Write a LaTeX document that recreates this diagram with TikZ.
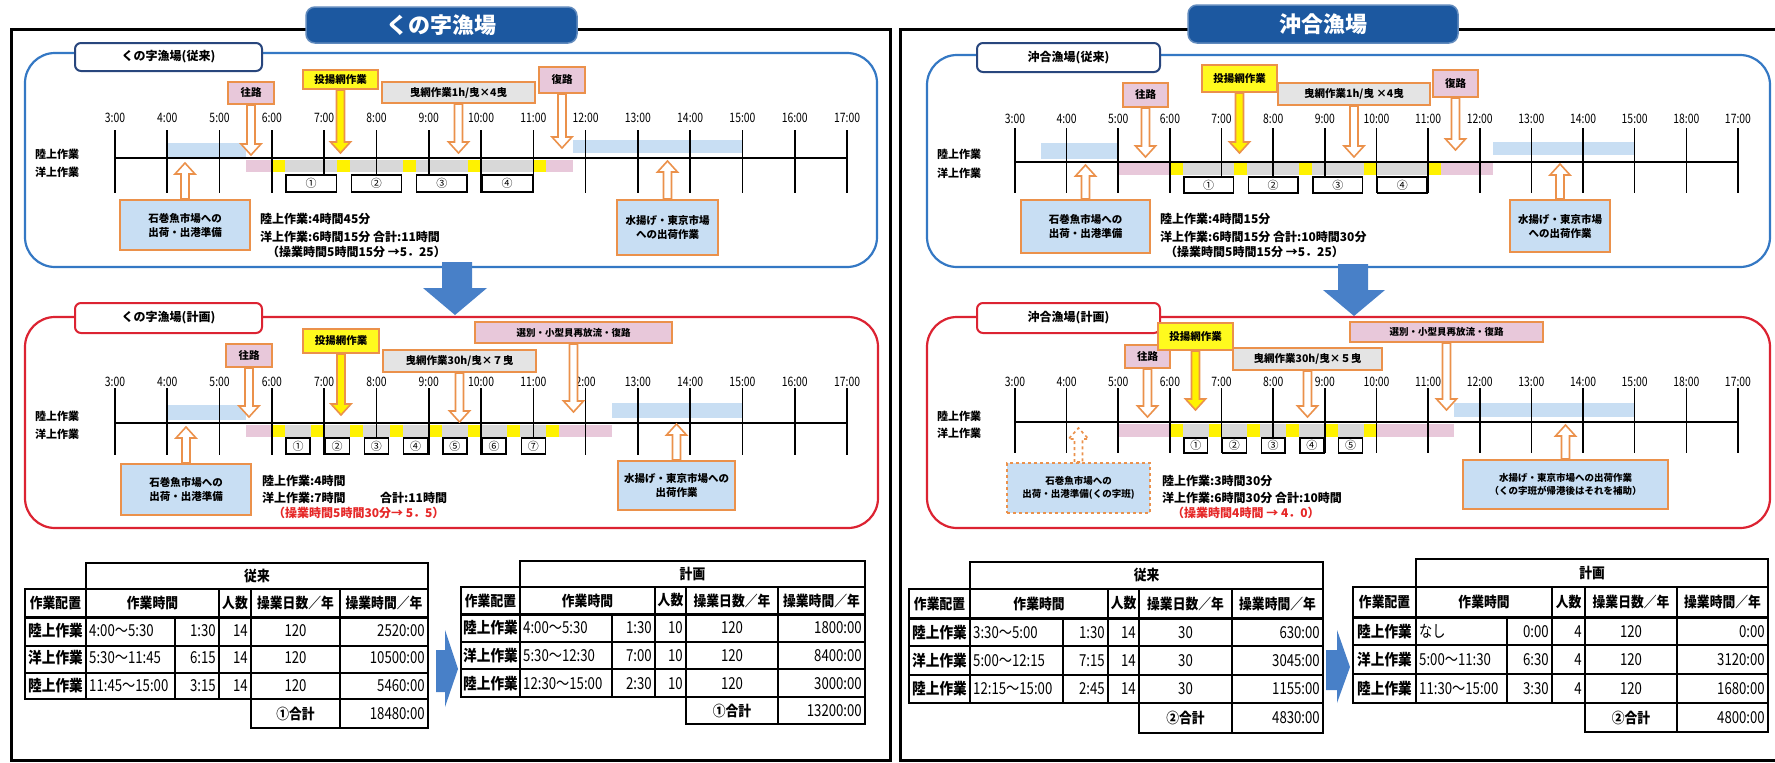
\documentclass[tikz,border=0pt]{standalone}
\usepackage{fontspec}
\setmainfont{Noto Sans CJK JP}
\newfontfamily\jpn{Noto Sans CJK JP}[FakeStretch=0.8]
\newfontfamily\jpt{Noto Sans CJK JP}[FakeStretch=0.88]
\usetikzlibrary{calc}
\definecolor{pblue}{RGB}{52,120,196}
\definecolor{tagblue}{RGB}{40,70,125}
\definecolor{pred}{RGB}{220,35,50}
\definecolor{ored}{RGB}{235,145,75}
\definecolor{lblue}{RGB}{200,222,243}
\definecolor{lpink}{RGB}{232,200,218}
\definecolor{ybox}{RGB}{255,250,30}
\definecolor{gbar}{RGB}{216,216,216}
\definecolor{tabblue}{RGB}{28,88,160}
\definecolor{bigblue}{RGB}{72,128,200}
\definecolor{rtext}{RGB}{230,40,40}
\tikzset{
 frm/.style={draw=black, line width=3pt},
 panelB/.style={draw=pblue, line width=2.2pt, rounded corners=30pt},
 panelR/.style={draw=pred, line width=2.2pt, rounded corners=30pt},
 tagB/.style={draw=tagblue, line width=2pt, fill=white, rounded corners=6pt, font=\bfseries\fontsize{12}{14}\selectfont},
 tagR/.style={tagB, draw=pred},
 tabT/.style={fill=tabblue, draw=tabblue!70!white, line width=1.5pt, rounded corners=9pt, text=white, font=\bfseries\fontsize{22}{24}\selectfont},
 tickln/.style={line width=1.6pt},
 axln/.style={line width=1.8pt},
 ticklab/.style={font=\jpn\fontsize{13}{14}\selectfont, inner sep=0pt},
 rowlab/.style={anchor=west, inner sep=0pt, font=\bfseries\fontsize{11}{12}\selectfont},
 callout/.style={draw=ored, line width=2pt, font=\bfseries\fontsize{10.5}{14}\selectfont, align=center},
 cpink/.style={callout, fill=lpink},
 cyel/.style={callout, fill=ybox},
 cgray/.style={callout, fill=gbar!70},
 cblue/.style={callout, fill=lblue},
 smallf/.style={font=\bfseries\fontsize{9.5}{13}\selectfont},
 barrow/.style={draw=ored, line width=1.6pt, fill=white, line join=miter},
 numbox/.style={draw=black, line width=1.4pt, fill=white, inner sep=0pt, font=\fontsize{11}{12}\selectfont},
 summ/.style={anchor=west, inner sep=0pt, font=\bfseries\fontsize{12}{14}\selectfont},
 tline/.style={line width=1.5pt},
 thd/.style={inner sep=0pt, font=\jpt\bfseries\fontsize{14.5}{16}\selectfont},
 tnum/.style={inner sep=0pt, font=\jpn\fontsize{16.5}{17}\selectfont},
}
% box from corners
\newcommand\boxat[7]{\node[#2, minimum width={(#5)-(#3)}, minimum height={(#6)-(#4)}, inner sep=0pt] (#1) at ({((#3)+(#5))/2},{((#4)+(#6))/2}) {#7};}
% block arrow from a node anchor to a tip coordinate
\newcommand\blockarrow[3][]{%
 \draw[barrow,#1] let \p1=(#2), \p2=(#3), \p3=($(#3)!11pt!(#2)$) in
 (\x1-4pt,\y1) -- (\x1-4pt,\y3) -- (\x1-10pt,\y3) -- (\x1,\y2) -- (\x1+10pt,\y3) -- (\x1+4pt,\y3) -- (\x1+4pt,\y1) -- cycle;}
% bar between two times
\newcommand\tbar[5]{\fill[#5] ({\XO+\SC*((#1)-3)},#3) rectangle ({\XO+\SC*((#2)-3)},#4);}
% timeline: prefix, line y, tick top, tick bottom, label y, labels
\newcommand\mktimeline[6]{%
 \foreach \lab [count=\i from 0] in {#6} {
  \draw[tickln] ({\XO+\SC*\i},#3) -- ({\XO+\SC*\i},#4);
  \node[ticklab] (#1-t\i) at ({\XO+\SC*\i},#5) {\lab};
 }
 \draw[axln] (\XO,#2) -- ({\XO+14*\SC},#2);
}
% haul cycles: n, gray length, y1, y2
\newcommand\mkcycles[4]{%
 \foreach \k in {1,...,#1} {
  \pgfmathsetmacro\tA{6+(0.25+#2)*(\k-1)}
  \pgfmathsetmacro\tB{\tA+0.25}
  \pgfmathsetmacro\tC{\tB+#2}
  \tbar{\tA}{\tB}{#3}{#4}{yellow}
  \tbar{\tB}{\tC}{#3}{#4}{gbar}
 }
 \pgfmathsetmacro\tZ{6+(0.25+#2)*#1}
 \tbar{\tZ}{\tZ+0.25}{#3}{#4}{yellow}
}
% numbered boxes
\newcommand\mknum[5]{%
 \foreach \cn [count=\n] in {#2} {
  \pgfmathsetmacro\tB{6.25+(0.25+#3)*(\n-1)}
  \node[numbox, minimum width={\SC*#3-2}, minimum height={#5-#4}] (#1-n\n) at ({\XO+\SC*(\tB+#3/2-3)},{(#4+#5)/2}) {\cn};
 }
}
% table
\newcommand\mktable[5]{%
 \draw[tline] (\Xb,\Ya) rectangle (\Xg,\Yb);
 \node[thd] (#1-ttl) at ({(\Xb+\Xg)/2},{(\Ya+\Yb)/2}) {#2};
 \draw[tline] (\Xa,\Yb) rectangle (\Xg,\Yc);
 \foreach \xx in {\Xb,\Xd,\Xe,\Xf} {\draw[tline] (\xx,\Yb) -- (\xx,\Yc);}
 \node[thd] (#1-h1) at ({(\Xa+\Xb)/2},{(\Yb+\Yc)/2}) {作業配置};
 \node[thd] (#1-h2) at ({(\Xb+\Xd)/2},{(\Yb+\Yc)/2}) {作業時間};
 \node[thd] (#1-h3) at ({(\Xd+\Xe)/2},{(\Yb+\Yc)/2}) {人数};
 \node[thd] (#1-h4) at ({(\Xe+\Xf)/2},{(\Yb+\Yc)/2}) {操業日数／年};
 \node[thd] (#1-h5) at ({(\Xf+\Xg)/2},{(\Yb+\Yc)/2}) {操業時間／年};
 \draw[tline] (\Xa,\Yc) rectangle (\Xg,\Yf);
 \draw[tline] (\Xa,\Yd) -- (\Xg,\Yd) (\Xa,\Ye) -- (\Xg,\Ye);
 \foreach \xx in {\Xb,\Xc,\Xd,\Xe,\Xf} {\draw[tline] (\xx,\Yc) -- (\xx,\Yf);}
 \draw[line width=3pt] (\Xa,\Yc) -- (\Xg,\Yc);
 \draw[tline] (\Xe,\Yf) rectangle (\Xg,\Yg);
 \draw[tline] (\Xf,\Yf) -- (\Xf,\Yg);
 \foreach \va/\vb/\vc/\vd/\ve/\vf [count=\i] in {#3} {
  \pgfmathsetmacro\yy{\Yc+(\i-0.5)*(\Yf-\Yc)/3}
  \node[thd,font=\jpt\bfseries\fontsize{15.5}{16}\selectfont] (#1-r\i-a) at ({(\Xa+\Xb)/2},\yy) {\va};
  \node[tnum,anchor=west] (#1-r\i-b) at (\Xb+3,\yy) {\vb};
  \node[tnum,anchor=east] (#1-r\i-c) at (\Xd-3,\yy) {\vc};
  \node[tnum,anchor=east] (#1-r\i-d) at (\Xe-3,\yy) {\vd};
  \node[tnum] (#1-r\i-e) at ({(\Xe+\Xf)/2},\yy) {\ve};
  \node[tnum,anchor=east] (#1-r\i-f) at (\Xg-3,\yy) {\vf};
 }
 \node[thd] (#1-tl) at ({(\Xe+\Xf)/2},{(\Yf+\Yg)/2}) {#4};
 \node[tnum,anchor=east] (#1-tv) at (\Xg-3,{(\Yf+\Yg)/2}) {#5};
}
\begin{document}
\begin{tikzpicture}[x=1pt,y=-1pt]
\clip (0,0) rectangle (1775,763);
\fill[white] (0,0) rectangle (1775,763);
% outer frames
\draw[frm] (11,29) rectangle (890,760);
\draw[frm] (900,29) rectangle (1790,760);
\boxat{tabL}{tabT}{306}{7}{577}{43}{くの字漁場}
\boxat{tabR}{tabT}{1188}{5}{1458}{43}{沖合漁場}

% ================= TOP LEFT =================
\def\XO{115}\def\SC{52.29}
\draw[panelB] (25,53) rectangle (877,267);
\boxat{TLtag}{tagB}{75}{43}{262}{71}{くの字漁場(従来)}
\tbar{4}{5.5}{143}{157}{lblue}
\tbar{11.75}{15}{140}{153}{lblue}
\tbar{5.5}{6}{160}{172}{lpink}
\tbar{11.25}{11.75}{160}{172}{lpink}
\mkcycles{4}{1}{160}{172}
\mktimeline{TL}{158}{130}{193}{118}{3:00,4:00,5:00,6:00,7:00,8:00,9:00,10:00,11:00,12:00,13:00,14:00,15:00,16:00,17:00}
\node[rowlab] (TLr1) at (35,154) {陸上作業};
\node[rowlab] (TLr2) at (35,172) {洋上作業};
\mknum{TL}{①,②,③,④}{1}{175}{192}
\boxat{TLc1}{cpink}{228}{82}{274}{104}{往路}
\boxat{TLc2}{cyel}{303}{70}{378}{89}{投揚網作業}
\boxat{TLc3}{cgray}{382}{82}{535}{103}{曳網作業1h/曳×4曳}
\boxat{TLc4}{cpink}{539}{67}{585}{93}{復路}
\boxat{TLc5}{cblue}{120}{200}{250}{250}{石巻魚市場への\\出荷・出港準備}
\boxat{TLc6}{cblue}{617}{200}{718}{255}{水揚げ・東京市場\\への出荷作業}
\coordinate (TLp1) at (251,155);
\coordinate (TLp2) at (341,153);
\coordinate (TLp3) at (458,153);
\coordinate (TLp4) at (562,148);
\coordinate (TLp5) at (185,163);
\coordinate (TLp6) at (667,161);
\blockarrow{TLc1.south}{TLp1}
\blockarrow[fill=yellow]{TLc2.south}{TLp2}
\blockarrow{TLc3.south}{TLp3}
\blockarrow{TLc4.south}{TLp4}
\blockarrow{TLc5.north}{TLp5}
\blockarrow{TLc6.north}{TLp6}
\node[summ] (TLs1) at (260,219) {陸上作業:4時間45分};
\node[summ] (TLs2) at (260,237) {洋上作業:6時間15分 合計:11時間};
\node[summ] (TLs3) at (267,252) {（操業時間5時間15分 →5．25）};

% ================= MIDDLE LEFT =================
\draw[panelR] (25,317) rectangle (878,528);
\boxat{MLtag}{tagR}{75}{303}{262}{333}{くの字漁場(計画)}
\tbar{4}{5.5}{405}{420}{lblue}
\tbar{12.5}{15}{403}{418}{lblue}
\tbar{5.5}{6}{425}{437}{lpink}
\tbar{11.5}{12.5}{425}{437}{lpink}
\mkcycles{7}{0.5}{425}{437}
\mktimeline{ML}{423}{388}{455}{382}{3:00,4:00,5:00,6:00,7:00,8:00,9:00,10:00,11:00,2:00,13:00,14:00,15:00,16:00,17:00}
\node[rowlab] (MLr1) at (35,416) {陸上作業};
\node[rowlab] (MLr2) at (35,434) {洋上作業};
\mknum{ML}{①,②,③,④,⑤,⑥,⑦}{0.5}{438}{454}
\boxat{MLc1}{cpink}{226}{344}{272}{367}{往路}
\boxat{MLc2}{cyel}{303}{329}{379}{353}{投揚網作業}
\boxat{MLc3}{cgray}{383}{350}{536}{372}{曳網作業30h/曳×７曳}
\boxat{MLc4}{cpink,smallf}{475}{322}{672}{343}{選別・小型貝再放流・復路}
\boxat{MLc5}{cblue}{121}{464}{251}{515}{石巻魚市場への\\出荷・出港準備}
\boxat{MLc6}{cblue}{618}{461}{735}{510}{水揚げ・東京市場への\\出荷作業}
\coordinate (MLp1) at (249,417);
\coordinate (MLp2) at (341,415);
\coordinate (MLp3) at (459,422);
\coordinate (MLp4) at (573,412);
\coordinate (MLp5) at (186,427);
\coordinate (MLp6) at (676,424);
\blockarrow{MLc1.south}{MLp1}
\blockarrow[fill=yellow]{MLc2.south}{MLp2}
\blockarrow{MLc3.south}{MLp3}
\blockarrow{MLc4.south}{MLp4}
\blockarrow{MLc5.north}{MLp5}
\blockarrow{MLc6.north}{MLp6}
\node[summ] (MLs1) at (262,481) {陸上作業:4時間};
\node[summ] (MLs2) at (262,498) {洋上作業:7時間};
\node[summ] (MLs3) at (380,498) {合計:11時間};
\node[summ,text=rtext] (MLs4) at (273,513) {（操業時間5時間30分→ 5．5）};

% ================= TOP RIGHT =================
\def\XO{1015}\def\SC{51.64}
\draw[panelB] (927,55) rectangle (1770,267);
\boxat{TRtag}{tagB}{977}{43}{1160}{72}{沖合漁場(従来)}
\tbar{3.5}{5}{143}{159}{lblue}
\tbar{12.25}{15}{142}{155}{lblue}
\tbar{5}{6}{163}{175}{lpink}
\tbar{11.25}{12.25}{163}{175}{lpink}
\mkcycles{4}{1}{163}{175}
\mktimeline{TR}{162}{128}{193}{119}{3:00,4:00,5:00,6:00,7:00,8:00,9:00,10:00,11:00,12:00,13:00,14:00,15:00,18:00,17:00}
\node[rowlab] (TRr1) at (937,154) {陸上作業};
\node[rowlab] (TRr2) at (937,173) {洋上作業};
\mknum{TR}{①,②,③,④}{1}{177}{193}
\boxat{TRc1}{cpink}{1123}{83}{1168}{107}{往路}
\boxat{TRc2}{cyel}{1202}{65}{1277}{92}{投揚網作業}
\boxat{TRc3}{cgray}{1278}{83}{1430}{105}{曳網作業1h/曳 ×4曳}
\boxat{TRc4}{cpink}{1433}{70}{1478}{97}{復路}
\boxat{TRc5}{cblue}{1021}{200}{1150}{253}{石巻魚市場への\\出荷・出港準備}
\boxat{TRc6}{cblue}{1510}{200}{1610}{252}{水揚げ・東京市場\\への出荷作業}
\coordinate (TRp1) at (1146,157);
\coordinate (TRp2) at (1240,153);
\coordinate (TRp3) at (1354,157);
\coordinate (TRp4) at (1456,150);
\coordinate (TRp5) at (1085,165);
\coordinate (TRp6) at (1560,164);
\blockarrow{TRc1.south}{TRp1}
\blockarrow[fill=yellow]{TRc2.south}{TRp2}
\blockarrow{TRc3.south}{TRp3}
\blockarrow{TRc4.south}{TRp4}
\blockarrow{TRc5.north}{TRp5}
\blockarrow{TRc6.north}{TRp6}
\node[summ] (TRs1) at (1160,219) {陸上作業:4時間15分};
\node[summ] (TRs2) at (1160,237) {洋上作業:6時間15分 合計:10時間30分};
\node[summ] (TRs3) at (1165,252) {（操業時間5時間15分 →5．25）};

% ================= MIDDLE RIGHT =================
\draw[panelR] (927,317) rectangle (1770,528);
\boxat{MRtag}{tagR}{977}{303}{1160}{333}{沖合漁場(計画)}
\tbar{5}{6}{424}{437}{lpink}
\tbar{10}{11.5}{424}{437}{lpink}
\tbar{11.5}{15}{403}{417}{lblue}
\mkcycles{5}{0.5}{424}{437}
\mktimeline{MR}{422}{388}{453}{382}{3:00,4:00,5:00,6:00,7:00,8:00,9:00,10:00,11:00,12:00,13:00,14:00,15:00,18:00,17:00}
\node[rowlab] (MRr1) at (937,416) {陸上作業};
\node[rowlab] (MRr2) at (937,433) {洋上作業};
\mknum{MR}{①,②,③,④,⑤}{0.5}{438}{453}
\boxat{MRc1}{cpink}{1125}{345}{1170}{368}{往路}
\boxat{MRc3}{cgray}{1233}{348}{1382}{370}{曳網作業30h/曳×５曳}
\boxat{MRc2}{cyel}{1158}{323}{1233}{350}{投揚網作業}
\boxat{MRc4}{cpink,smallf}{1350}{322}{1543}{342}{選別・小型貝再放流・復路}
\boxat{MRc5}{cblue,dashed,smallf}{1007}{463}{1150}{513}{石巻魚市場への\\出荷・出港準備(くの字班)}
\boxat{MRc6}{cblue,smallf}{1463}{460}{1668}{509}{水揚げ・東京市場への出荷作業\\（くの字班が帰港後はそれを補助）}
\coordinate (MRp1) at (1147,417);
\coordinate (MRp2) at (1195,410);
\coordinate (MRp3) at (1307,417);
\coordinate (MRp4) at (1446,410);
\coordinate (MRp5) at (1078,428);
\coordinate (MRp6) at (1565,425);
\blockarrow{MRc1.south}{MRp1}
\blockarrow[fill=yellow]{MRc2.south}{MRp2}
\blockarrow{MRc3.south}{MRp3}
\blockarrow{MRc4.south}{MRp4}
\blockarrow[dashed]{MRc5.north}{MRp5}
\blockarrow{MRc6.north}{MRp6}
\node[summ] (MRs1) at (1162,481) {陸上作業:3時間30分};
\node[summ] (MRs2) at (1162,498) {洋上作業:6時間30分 合計:10時間};
\node[summ,text=rtext] (MRs3) at (1172,513) {（操業時間4時間 → 4．0）};

% ================= big arrows =================
\fill[bigblue] (442,262) -- (472,262) -- (472,288) -- (487,288) -- (455,315) -- (423,288) -- (442,288) -- cycle;
\fill[bigblue] (1338,264) -- (1368,264) -- (1368,290) -- (1385,290) -- (1354,316) -- (1323,290) -- (1338,290) -- cycle;
\fill[bigblue] (436,650) -- (445,650) -- (445,630) -- (458,669) -- (445,707) -- (445,692) -- (436,692) -- cycle;
\fill[bigblue] (1326,650) -- (1337,650) -- (1337,630) -- (1350,667) -- (1337,703) -- (1337,690) -- (1326,690) -- cycle;

% ================= tables =================
\def\Xa{25}\def\Xb{86}\def\Xc{175}\def\Xd{219}\def\Xe{251}\def\Xf{340}\def\Xg{428}
\def\Ya{563}\def\Yb{589}\def\Yc{617}\def\Yd{646}\def\Ye{673}\def\Yf{699}\def\Yg{728}
\mktable{T1}{従来}{陸上作業/4:00～5:30/1:30/14/120/2520:00,洋上作業/5:30～11:45/6:15/14/120/10500:00,陸上作業/11:45～15:00/3:15/14/120/5460:00}{①合計}{18480:00}
\def\Xa{461}\def\Xb{520}\def\Xc{612}\def\Xd{655}\def\Xe{686}\def\Xf{778}\def\Xg{865}
\def\Ya{561}\def\Yb{587}\def\Yc{614}\def\Yd{642}\def\Ye{669}\def\Yf{697}\def\Yg{724}
\mktable{T2}{計画}{陸上作業/4:00～5:30/1:30/10/120/1800:00,洋上作業/5:30～12:30/7:00/10/120/8400:00,陸上作業/12:30～15:00/2:30/10/120/3000:00}{①合計}{13200:00}
\def\Xa{909}\def\Xb{970}\def\Xc{1063}\def\Xd{1108}\def\Xe{1139}\def\Xf{1232}\def\Xg{1323}
\def\Ya{562}\def\Yb{589}\def\Yc{618}\def\Yd{646}\def\Ye{675}\def\Yf{703}\def\Yg{733}
\mktable{T3}{従来}{陸上作業/3:30～5:00/1:30/14/30/630:00,洋上作業/5:00～12:15/7:15/14/30/3045:00,陸上作業/12:15～15:00/2:45/14/30/1155:00}{②合計}{4830:00}
\def\Xa{1353}\def\Xb{1416}\def\Xc{1507}\def\Xd{1552}\def\Xe{1585}\def\Xf{1677}\def\Xg{1768}
\def\Ya{559}\def\Yb{587}\def\Yc{617}\def\Yd{645}\def\Ye{674}\def\Yf{703}\def\Yg{732}
\mktable{T4}{計画}{陸上作業/なし/0:00/4/120/0:00,洋上作業/5:00～11:30/6:30/4/120/3120:00,陸上作業/11:30～15:00/3:30/4/120/1680:00}{②合計}{4800:00}
\end{tikzpicture}
\end{document}
